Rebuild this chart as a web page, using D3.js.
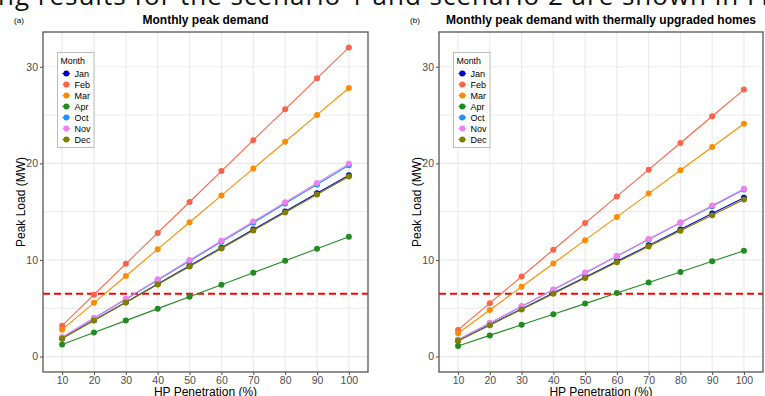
<!DOCTYPE html>
<meta charset="utf-8">
<style>
body { margin: 0; background: #fff; }
svg { display: block; font-family: "Liberation Sans", Arial, sans-serif; }
.tick text { fill: #4d4d4d; font-size: 10.5px; }
.tick line { stroke: #4d4d4d; }
.domain { display: none; }
</style>
<body>
<svg width="765" height="396"></svg>
<script src="https://d3js.org/d3.v7.min.js"></script>
<script>

var penetration = [10, 20, 30, 40, 50, 60, 70, 80, 90, 100];
var months = ["Jan", "Feb", "Mar", "Apr", "Oct", "Nov", "Dec"];
var monthColors = ["#0000cd", "#ff6347", "#ff8c00", "#228b22", "#1e90ff", "#ee82ee", "#808000"];
var yTicks = [0, 10, 20, 30];
var threshold = 6.5;

// (a) monthly peak demand, MW
var peakJan = [1.88, 3.76, 5.63, 7.51, 9.39, 11.27, 13.15, 15.02, 16.90, 18.78];
var peakFeb = [3.20, 6.40, 9.60, 12.80, 16.00, 19.20, 22.40, 25.60, 28.80, 32.00];
var peakMar = [2.78, 5.56, 8.34, 11.12, 13.90, 16.68, 19.46, 22.24, 25.02, 27.80];
var peakApr = [1.24, 2.48, 3.72, 4.96, 6.20, 7.44, 8.68, 9.92, 11.16, 12.40];
var peakOct = [1.98, 3.96, 5.94, 7.92, 9.90, 11.88, 13.86, 15.84, 17.82, 19.80];
var peakNov = [2.00, 4.00, 5.99, 7.99, 9.99, 11.98, 13.98, 15.98, 17.97, 19.97];
var peakDec = [1.86, 3.73, 5.59, 7.46, 9.32, 11.18, 13.05, 14.91, 16.78, 18.64];

// (b) with thermally upgraded homes, MW
var upJan = [1.64, 3.29, 4.93, 6.58, 8.22, 9.86, 11.51, 13.15, 14.80, 16.44];
var upFeb = [2.76, 5.53, 8.29, 11.06, 13.82, 16.58, 19.35, 22.11, 24.88, 27.64];
var upMar = [2.41, 4.82, 7.23, 9.64, 12.05, 14.46, 16.87, 19.28, 21.69, 24.10];
var upApr = [1.10, 2.19, 3.29, 4.38, 5.48, 6.57, 7.67, 8.76, 9.86, 10.95];
var upOct = [1.73, 3.46, 5.19, 6.92, 8.65, 10.38, 12.11, 13.84, 15.57, 17.30];
var upNov = [1.74, 3.47, 5.21, 6.95, 8.69, 10.42, 12.16, 13.90, 15.63, 17.37];
var upDec = [1.63, 3.25, 4.88, 6.51, 8.14, 9.76, 11.39, 13.02, 14.64, 16.27];

var svg = d3.select("svg");

// document text cut off at the top of the screenshot
svg.append("text")
    .attr("x", -2).attr("y", 4.5)
    .attr("font-family", "'Open Sans', 'Noto Sans', sans-serif")
    .attr("font-size", 26)
    .attr("textLength", 770)
    .attr("fill", "#111")
    .text("ng results for the scenario 1 and scenario 2 are shown in Fi");

function drawPanel(left, right, tag, title, series) {
    var top = 32, bottom = 372;
    var x = d3.scalePoint().domain(penetration).range([left, right]).padding(0.6);
    var y = d3.scaleLinear().domain([-1.6, 33.6]).range([bottom, top]);

    var g = svg.append("g");

    // grid
    g.selectAll("line.minor").data([5, 15, 25]).enter().append("line")
        .attr("x1", left).attr("x2", right)
        .attr("y1", function(d) { return y(d); }).attr("y2", function(d) { return y(d); })
        .attr("stroke", "#ebebeb").attr("stroke-width", 1);
    g.selectAll("line.hmaj").data(yTicks).enter().append("line")
        .attr("x1", left).attr("x2", right)
        .attr("y1", function(d) { return y(d); }).attr("y2", function(d) { return y(d); })
        .attr("stroke", "#ebebeb").attr("stroke-width", 1.2);
    g.selectAll("line.vmaj").data(penetration).enter().append("line")
        .attr("y1", top).attr("y2", bottom)
        .attr("x1", function(d) { return x(d); }).attr("x2", function(d) { return x(d); })
        .attr("stroke", "#ebebeb").attr("stroke-width", 1.2);

    // axes
    g.append("g")
        .attr("transform", "translate(" + left + ",0)")
        .call(d3.axisLeft(y).tickValues(yTicks).tickSize(3).tickPadding(2));
    g.append("g")
        .attr("transform", "translate(0," + bottom + ")")
        .call(d3.axisBottom(x).tickSize(3).tickPadding(1.5));

    // threshold
    g.append("line")
        .attr("x1", left).attr("x2", right)
        .attr("y1", y(threshold)).attr("y2", y(threshold))
        .attr("stroke", "#ff0000").attr("stroke-width", 1.8)
        .attr("stroke-dasharray", "7,4");

    var line = d3.line()
        .x(function(d, i) { return x(penetration[i]); })
        .y(function(d) { return y(d); });

    series.forEach(function(vals, k) {
        g.append("path")
            .attr("d", line(vals))
            .attr("fill", "none")
            .attr("stroke", monthColors[k])
            .attr("stroke-width", 1.1);
        g.selectAll(null).data(vals).enter().append("circle")
            .attr("cx", function(d, i) { return x(penetration[i]); })
            .attr("cy", function(d) { return y(d); })
            .attr("r", 3)
            .attr("fill", monthColors[k]);
    });

    // border
    g.append("rect")
        .attr("x", left).attr("y", top)
        .attr("width", right - left).attr("height", bottom - top)
        .attr("fill", "none").attr("stroke", "#555").attr("stroke-width", 1.3);

    // titles
    var cx = (left + right) / 2;
    g.append("text").attr("x", cx).attr("y", 24)
        .attr("text-anchor", "middle").attr("font-weight", "bold")
        .attr("font-size", 12).attr("fill", "#000").text(title);
    g.append("text").attr("x", left - 24).attr("y", 23)
        .attr("text-anchor", "middle")
        .attr("font-size", 8).attr("fill", "#000").text(tag);
    g.append("text").attr("x", cx).attr("y", 396)
        .attr("text-anchor", "middle").attr("font-size", 12)
        .attr("fill", "#000").text("HP Penetration (%)");
    g.append("text")
        .attr("transform", "translate(" + (left - 18) + "," + ((top + bottom) / 2) + ") rotate(-90)")
        .attr("text-anchor", "middle").attr("font-size", 12)
        .attr("fill", "#000").text("Peak Load (MW)");

    // legend
    var lx = left + 14.5, ly = 52.5;
    var leg = g.append("g");
    leg.append("rect")
        .attr("x", lx).attr("y", ly).attr("width", 36.5).attr("height", 95)
        .attr("fill", "#fff").attr("stroke", "#bdbdbd").attr("stroke-width", 1);
    leg.append("text").attr("x", lx + 3).attr("y", ly + 11.5)
        .attr("font-size", 8.8).attr("fill", "#000").text("Month");
    months.forEach(function(m, k) {
        var yy = ly + 21 + k * 11;
        leg.append("line")
            .attr("x1", lx + 5).attr("x2", lx + 12.5)
            .attr("y1", yy).attr("y2", yy)
            .attr("stroke", monthColors[k]).attr("stroke-width", 1.1);
        leg.append("circle").attr("cx", lx + 8.8).attr("cy", yy).attr("r", 3)
            .attr("fill", monthColors[k]);
        leg.append("text").attr("x", lx + 17).attr("y", yy + 3.2)
            .attr("font-size", 9).attr("fill", "#000").text(m);
    });
}

drawPanel(43, 368, "(a)", "Monthly peak demand",
    [peakJan, peakFeb, peakMar, peakApr, peakOct, peakNov, peakDec]);
drawPanel(439, 763, "(b)", "Monthly peak demand with thermally upgraded homes",
    [upJan, upFeb, upMar, upApr, upOct, upNov, upDec]);

</script>
